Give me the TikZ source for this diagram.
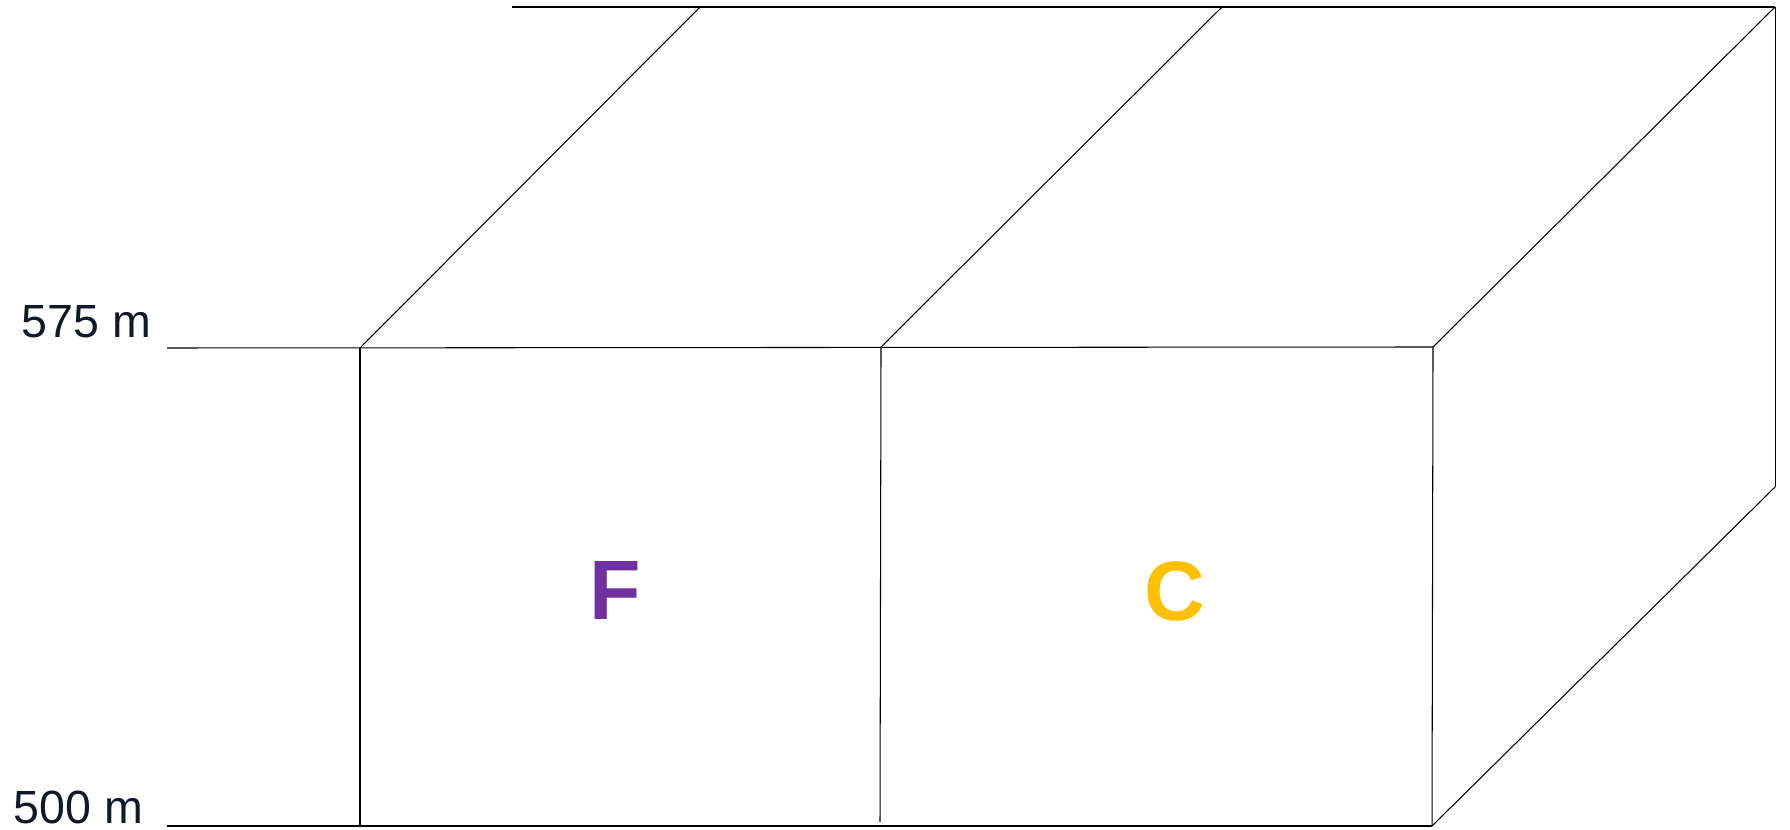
\documentclass[tikz,border=0pt]{standalone}
\usepackage{fontspec}
\setmainfont{Liberation Sans}
\usetikzlibrary{positioning}
\definecolor{cmorado}{HTML}{7030A0}
\definecolor{cambar}{HTML}{FFC000}
\definecolor{ctexto}{HTML}{111827}

\begin{document}
\begin{tikzpicture}[x=0.02cm,y=-0.02cm,line width=0.6pt]
  \useasboundingbox (0,0) rectangle (1790,830);
  % esquinas del bloque
  \coordinate (fsi) at (360,348);
  \coordinate (fii) at (360,826);
  \coordinate (msu) at (881,347);
  \coordinate (min) at (880,822);
  \coordinate (fsd) at (1433,347);
  \coordinate (fid) at (1432,826);
  \coordinate (tsi) at (700,7);
  \coordinate (tsm) at (1222,7);
  \coordinate (tsd) at (1775,7);
  \coordinate (tid) at (1775,487);
  \coordinate (ref575) at (167,348);
  \coordinate (ref500) at (167,826);
  \coordinate (top0) at (512,7);
  % lineas
  \draw (top0) -- (tsd);
  \draw (ref575) -- (fsd);
  \draw (ref500) -- (fid);
  \draw (fsi) -- (fii);
  \draw (msu) -- (min);
  \draw (fsd) -- (fid);
  \draw (tsd) -- (tid);
  \draw (fsi) -- (tsi);
  \draw (msu) -- (tsm);
  \draw (fsd) -- (tsd);
  \draw (fid) -- (tid);
  % textos
  \node[anchor=base west,inner sep=0,text=ctexto,font=\fontsize{26.5}{30}\selectfont] (t575) at (21,338) {575 m};
  \node[anchor=base west,inner sep=0,text=ctexto,font=\fontsize{26.5}{30}\selectfont] (t500) at (13,823) {500 m};
  \node[anchor=base,inner sep=0,text=cmorado,font=\fontsize{48}{52}\bfseries\selectfont] (lf) at (615,619) {F};
  \node[anchor=base,inner sep=0,text=cambar,font=\fontsize{48}{52}\bfseries\selectfont] (lc) at (1175,620) {C};
\end{tikzpicture}
\end{document}
